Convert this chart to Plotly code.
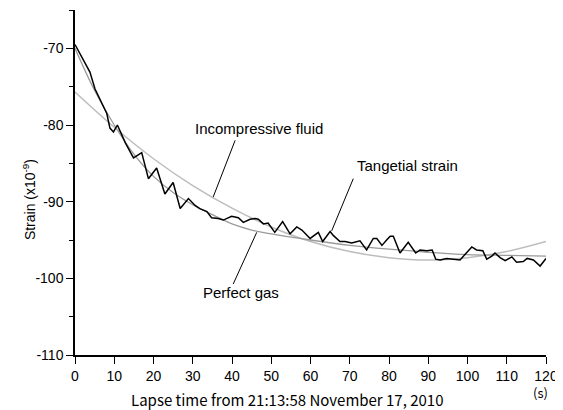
import plotly.graph_objects as go

# Tangential strain readings (lapse time s, strain x1e-9)
t_obs = [0, 1.7, 3.0, 3.8, 5.1, 7.2, 8.1, 8.9, 9.8, 10.8, 12.8, 14.9, 17.0, 18.7,
         20.8, 22.9, 25.0, 26.8, 28.9, 30.6, 31.8, 33.6, 34.8, 36.5, 37.8, 39.9,
         41.6, 42.9, 44.6, 45.9, 46.7, 48.0, 49.2, 50.9, 52.9, 54.8, 56.5, 57.8,
         59.9, 62.0, 63.1, 65.0, 65.8, 67.5, 68.8, 70.5, 72.6, 74.3, 76.0, 76.9,
         78.2, 79.4, 80.3, 81.1, 82.8, 84.9, 86.8, 87.9, 89.6, 91.0, 91.9, 93.0,
         94.7, 98.1, 99.4, 101.1, 102.3, 103.9, 104.9, 106.2, 107.0, 108.3, 109.6,
         111.3, 112.5, 114.2, 115.2, 116.8, 118.5, 120.0]
strain_obs = [-69.5, -71.2, -72.3, -73.1, -75.3, -77.7, -78.5, -80.4, -80.9, -80.0,
              -82.3, -84.3, -83.6, -87.0, -85.6, -89.0, -87.5, -90.9, -89.6, -90.5,
              -90.9, -91.3, -92.1, -92.2, -92.4, -91.9, -92.1, -92.7, -92.3, -92.2,
              -92.3, -92.9, -92.8, -94.0, -92.6, -94.2, -93.3, -93.7, -94.8, -94.0,
              -95.2, -93.9, -94.4, -95.2, -95.2, -95.4, -95.1, -96.3, -94.8, -94.8,
              -95.7, -95.0, -94.5, -94.5, -96.7, -95.3, -96.7, -96.3, -96.4, -96.3,
              -97.5, -97.6, -97.4, -97.6, -96.8, -95.9, -96.3, -96.4, -97.5, -97.1,
              -96.7, -97.3, -97.7, -97.2, -97.9, -97.8, -97.4, -97.6, -98.4, -97.4]

# Perfect gas model curve
t_gas = [0, 5, 10, 15, 20, 25, 30, 35, 40, 45, 50, 60, 70, 80, 90, 100, 110, 120]
strain_gas = [-70.0, -75.5, -80.0, -83.8, -86.7, -88.8, -90.4, -91.7, -92.9, -93.7,
              -94.2, -95.0, -95.7, -96.2, -96.6, -96.9, -97.0, -97.1]

# Incompressive fluid model curve
t_fluid = [0, 10, 20, 30, 40, 50, 60, 70, 80, 90, 100, 110, 120]
strain_fluid = [-75.7, -80.3, -84.4, -87.9, -90.85, -93.3, -95.2, -96.5, -97.3,
                -97.6, -97.3, -96.5, -95.2]

y_ticks = [-110, -100, -90, -80, -70]
y_ticktext = ["-110", "-100", "-90", "-80", "-70"]
x_ticks = list(range(0, 121, 10))

ARIAL = "Liberation Sans, Arial, sans-serif"
GOTHIC = "Noto Sans CJK JP, sans-serif"

fig = go.Figure()
fig.add_trace(go.Scatter(x=t_fluid, y=strain_fluid, mode="lines", line_shape="spline",
                         line=dict(color="#bdbdbd", width=1.5), name="Incompressive fluid"))
fig.add_trace(go.Scatter(x=t_gas, y=strain_gas, mode="lines", line_shape="spline",
                         line=dict(color="#9a9a9a", width=1.3), name="Perfect gas"))
fig.add_trace(go.Scatter(x=t_obs, y=strain_obs, mode="lines",
                         line=dict(color="black", width=1.5), name="Tangetial strain"))

# labels with leader lines
labels = [
    ("Incompressive fluid", 46.9, -80.4, (40.8, -82.0), (35.2, -89.4)),
    ("Tangetial strain", 84.7, -85.3, (70.9, -87.0), (65.4, -93.8)),
    ("Perfect gas", 42.3, -101.9, (46.3, -94.0), (40.3, -100.75)),
]
for text, tx, ty, p0, p1 in labels:
    fig.add_annotation(x=tx, y=ty, text=text, showarrow=False,
                       font=dict(family=ARIAL, size=15, color="black"))
    fig.add_shape(type="line", x0=p0[0], y0=p0[1], x1=p1[0], y1=p1[1],
                  line=dict(color="black", width=1))

fig.add_annotation(x=0.452, xref="paper", y=-0.128, yref="paper", yanchor="middle",
                   text="Lapse time from 21:13:58 November 17, 2010", showarrow=False,
                   font=dict(family=GOTHIC, size=15, color="black"))
fig.add_annotation(x=0.988, xref="paper", xanchor="center", y=-0.109, yref="paper",
                   yanchor="middle", text="(s)", showarrow=False, borderpad=0,
                   font=dict(family=GOTHIC, size=13, color="black"))
fig.add_annotation(x=-0.121, xref="paper", y=0.449, yref="paper", textangle=-90,
                   text="Strain (x10<sup>-9</sup>)", showarrow=False,
                   font=dict(family=ARIAL, size=14, color="black"))

# page body has an 8px margin, so the figure is shrunk by that much
fig.update_layout(
    width=555, height=402,
    margin=dict(l=67, r=17, t=2, b=55),
    plot_bgcolor="white", paper_bgcolor="white",
    showlegend=False,
    xaxis=dict(range=[0, 120], tickvals=x_ticks, ticks="outside", ticklen=7,
               tickwidth=1.3, tickcolor="black", showline=True, linecolor="black",
               linewidth=1.5, showgrid=False, zeroline=False, automargin=False,
               tickfont=dict(family=ARIAL, size=14, color="black")),
    yaxis=dict(range=[-110, -65], tickvals=y_ticks, ticktext=y_ticktext,
               ticks="outside", ticklen=7,
               tickwidth=1.3, tickcolor="black", showline=True, linecolor="black",
               linewidth=1.5, showgrid=False, zeroline=False, automargin=False,
               minor=dict(tickvals=[-105, -95, -85, -75, -65], ticks="outside",
                          ticklen=4, tickwidth=1.3, tickcolor="black", showgrid=False),
               tickfont=dict(family=ARIAL, size=14, color="black")),
)

fig.write_html("out.html")
